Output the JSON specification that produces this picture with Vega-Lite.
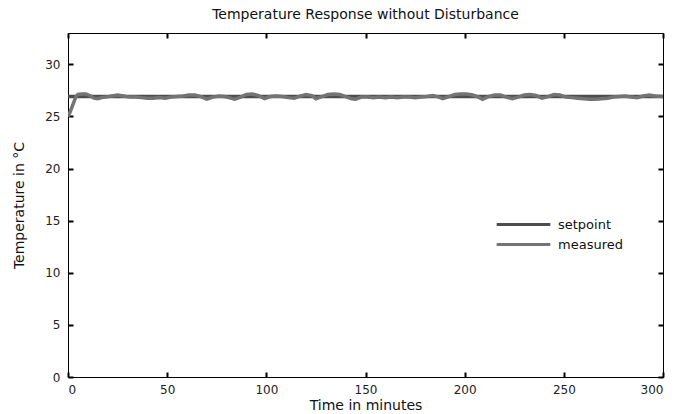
{
  "$schema": "https://vega.github.io/schema/vega-lite/v6.json",
  "width": 595,
  "height": 344,
  "autosize": {"type": "none"},
  "padding": {"left": 68, "top": 33, "right": 16, "bottom": 37},
  "background": "white",
  "title": {"text": "Temperature Response without Disturbance", "fontSize": 14, "font": "DejaVu Sans", "fontWeight": "normal", "color": "#111", "offset": 10, "anchor": "middle"},
  "config": {
    "view": {"stroke": "black", "strokeWidth": 1},
    "axis": {"grid": false, "domain": false, "ticks": true, "tickColor": "#000000", "tickWidth": 2, "tickSize": 5, "offset": -5, "labelFont": "DejaVu Sans", "labelFontSize": 12, "labelColor": "#222", "titleFont": "DejaVu Sans", "titleFontSize": 14, "titleFontWeight": "normal", "titleColor": "#111"}
  },
  "data": {"values": [
    {"t":0,"v":26.9,"s":"setpoint"},{"t":300,"v":26.9,"s":"setpoint"},
    {"t":0,"v":25.0,"s":"measured"},{"t":1,"v":25.4,"s":"measured"},{"t":2,"v":25.9,"s":"measured"},{"t":3,"v":26.4,"s":"measured"},{"t":4,"v":26.9,"s":"measured"},{"t":5,"v":27.1,"s":"measured"},{"t":7,"v":27.15,"s":"measured"},{"t":9,"v":27.15,"s":"measured"},{"t":11,"v":27.0,"s":"measured"},{"t":13,"v":26.75,"s":"measured"},{"t":15,"v":26.7,"s":"measured"},{"t":17,"v":26.8,"s":"measured"},{"t":19,"v":26.85,"s":"measured"},{"t":22,"v":26.95,"s":"measured"},{"t":25,"v":27.05,"s":"measured"},{"t":28,"v":26.95,"s":"measured"},{"t":31,"v":26.85,"s":"measured"},{"t":34,"v":26.85,"s":"measured"},{"t":37,"v":26.8,"s":"measured"},{"t":40,"v":26.75,"s":"measured"},{"t":43,"v":26.75,"s":"measured"},{"t":46,"v":26.8,"s":"measured"},{"t":49,"v":26.75,"s":"measured"},{"t":52,"v":26.85,"s":"measured"},{"t":55,"v":26.9,"s":"measured"},{"t":58,"v":26.95,"s":"measured"},{"t":61,"v":27.05,"s":"measured"},{"t":64,"v":27.05,"s":"measured"},{"t":67,"v":26.9,"s":"measured"},{"t":70,"v":26.65,"s":"measured"},{"t":73,"v":26.85,"s":"measured"},{"t":76,"v":26.95,"s":"measured"},{"t":79,"v":26.9,"s":"measured"},{"t":82,"v":26.75,"s":"measured"},{"t":84,"v":26.65,"s":"measured"},{"t":87,"v":26.85,"s":"measured"},{"t":90,"v":27.1,"s":"measured"},{"t":93,"v":27.15,"s":"measured"},{"t":96,"v":27.0,"s":"measured"},{"t":99,"v":26.7,"s":"measured"},{"t":102,"v":26.9,"s":"measured"},{"t":105,"v":26.95,"s":"measured"},{"t":108,"v":26.9,"s":"measured"},{"t":111,"v":26.8,"s":"measured"},{"t":114,"v":26.75,"s":"measured"},{"t":117,"v":26.95,"s":"measured"},{"t":120,"v":27.1,"s":"measured"},{"t":123,"v":27.0,"s":"measured"},{"t":125,"v":26.7,"s":"measured"},{"t":128,"v":26.9,"s":"measured"},{"t":131,"v":27.1,"s":"measured"},{"t":134,"v":27.15,"s":"measured"},{"t":137,"v":27.1,"s":"measured"},{"t":140,"v":26.9,"s":"measured"},{"t":143,"v":26.7,"s":"measured"},{"t":145,"v":26.65,"s":"measured"},{"t":148,"v":26.85,"s":"measured"},{"t":151,"v":26.85,"s":"measured"},{"t":154,"v":26.8,"s":"measured"},{"t":157,"v":26.85,"s":"measured"},{"t":160,"v":26.8,"s":"measured"},{"t":163,"v":26.85,"s":"measured"},{"t":166,"v":26.8,"s":"measured"},{"t":169,"v":26.85,"s":"measured"},{"t":172,"v":26.85,"s":"measured"},{"t":175,"v":26.8,"s":"measured"},{"t":178,"v":26.85,"s":"measured"},{"t":181,"v":26.9,"s":"measured"},{"t":184,"v":27.0,"s":"measured"},{"t":187,"v":26.85,"s":"measured"},{"t":189,"v":26.7,"s":"measured"},{"t":192,"v":26.9,"s":"measured"},{"t":195,"v":27.1,"s":"measured"},{"t":198,"v":27.15,"s":"measured"},{"t":201,"v":27.15,"s":"measured"},{"t":204,"v":27.05,"s":"measured"},{"t":207,"v":26.85,"s":"measured"},{"t":209,"v":26.65,"s":"measured"},{"t":212,"v":26.9,"s":"measured"},{"t":215,"v":27.05,"s":"measured"},{"t":218,"v":27.05,"s":"measured"},{"t":221,"v":26.85,"s":"measured"},{"t":224,"v":26.7,"s":"measured"},{"t":227,"v":26.85,"s":"measured"},{"t":230,"v":27.05,"s":"measured"},{"t":233,"v":27.1,"s":"measured"},{"t":236,"v":27.0,"s":"measured"},{"t":239,"v":26.75,"s":"measured"},{"t":242,"v":26.9,"s":"measured"},{"t":245,"v":27.1,"s":"measured"},{"t":248,"v":27.05,"s":"measured"},{"t":251,"v":26.85,"s":"measured"},{"t":254,"v":26.8,"s":"measured"},{"t":257,"v":26.75,"s":"measured"},{"t":260,"v":26.7,"s":"measured"},{"t":263,"v":26.65,"s":"measured"},{"t":266,"v":26.65,"s":"measured"},{"t":269,"v":26.7,"s":"measured"},{"t":272,"v":26.75,"s":"measured"},{"t":275,"v":26.85,"s":"measured"},{"t":278,"v":26.9,"s":"measured"},{"t":281,"v":26.95,"s":"measured"},{"t":284,"v":26.85,"s":"measured"},{"t":287,"v":26.8,"s":"measured"},{"t":290,"v":26.95,"s":"measured"},{"t":293,"v":27.05,"s":"measured"},{"t":296,"v":26.95,"s":"measured"},{"t":300,"v":26.9,"s":"measured"}
  ]},
  "layer": [
    {
      "mark": {"type": "line", "strokeWidth": 3.5, "clip": true},
      "encoding": {
        "x": {"field": "t", "type": "quantitative", "scale": {"domain": [0, 300], "nice": false, "zero": false},
              "axis": {"orient": "bottom", "offset": -5, "tickSize": 5, "tickWidth": 2, "tickColor": "#000000", "values": [0,50,100,150,200,250,300], "title": "Time in minutes", "labelPadding": 7, "titlePadding": 3}},
        "y": {"field": "v", "type": "quantitative", "scale": {"domain": [0, 33], "nice": false, "zero": false},
              "axis": {"orient": "left", "offset": -5, "tickSize": 5, "tickWidth": 2, "tickColor": "#000000", "values": [0,5,10,15,20,25,30], "title": "Temperature in °C", "labelPadding": 8, "titlePadding": 18}},
        "color": {"field": "s", "type": "nominal", "sort": ["setpoint", "measured"],
                  "scale": {"domain": ["setpoint", "measured"], "range": ["#4d4d4d", "#747474"]},
                  "legend": {"title": null, "orient": "none", "legendX": 447, "legendY": 183, "symbolType": "M-4,0H4", "symbolSize": 180, "symbolStrokeWidth": 3, "labelFont": "DejaVu Sans", "labelFontSize": 13, "labelColor": "#111", "rowPadding": 4, "labelOffset": 26}},
        "order": {"field": "t", "type": "quantitative"}
      }
    },
    {
      "mark": {"type": "line", "opacity": 0},
      "encoding": {
        "x": {"field": "t", "type": "quantitative", "axis": {"orient": "top", "offset": -5, "tickSize": 5, "tickWidth": 2, "tickColor": "#000000", "values": [0,50,100,150,200,250,300], "labels": false, "title": null}},
        "y": {"field": "v", "type": "quantitative", "axis": {"orient": "right", "offset": -5, "tickSize": 5, "tickWidth": 2, "tickColor": "#000000", "values": [0,5,10,15,20,25,30], "labels": false, "title": null}}
      }
    }
  ]
}
